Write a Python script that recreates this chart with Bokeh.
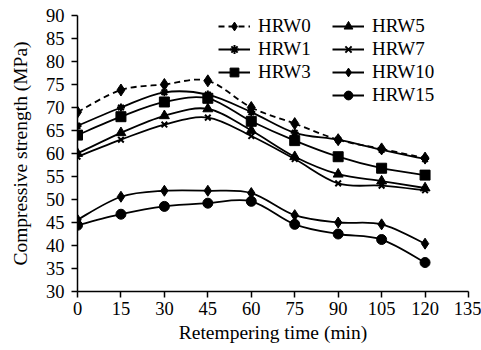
import numpy as np
from bokeh.plotting import figure
from bokeh.models import Range1d, FixedTicker, Legend, LegendItem
from bokeh.embed import file_html
from bokeh.resources import INLINE

# ---- data ----
times = [0, 15, 30, 45, 60, 75, 90, 105, 120]
hrw0 = [69.0, 73.8, 75.0, 75.8, 70.0, 66.5, 63.0, 61.0, 59.0]
hrw1 = [66.0, 70.0, 73.3, 72.8, 69.0, 64.5, 63.0, 60.8, 58.8]
hrw3 = [64.0, 68.0, 71.2, 72.0, 67.0, 62.8, 59.3, 56.8, 55.3]
hrw5 = [60.0, 64.5, 68.2, 69.7, 65.0, 59.3, 55.5, 54.0, 52.5]
hrw7 = [59.3, 63.0, 66.3, 67.8, 63.8, 58.8, 53.5, 53.0, 52.0]
hrw10 = [45.6, 50.6, 51.9, 51.9, 51.4, 46.6, 45.0, 44.6, 40.4]
hrw15 = [44.4, 46.8, 48.5, 49.2, 49.6, 44.6, 42.5, 41.3, 36.3]

x_ticks = [0, 15, 30, 45, 60, 75, 90, 105, 120, 135]
y_ticks = [30, 35, 40, 45, 50, 55, 60, 65, 70, 75, 80, 85, 90]

FONT = "Liberation Serif"

p = figure(width=481, height=350, output_backend="svg", toolbar_location=None,
           x_range=Range1d(0, 135), y_range=Range1d(30, 90),
           min_border_left=77, min_border_right=13, min_border_top=15, min_border_bottom=59)
p.outline_line_color = None
p.xgrid.visible = False
p.ygrid.visible = False
p.background_fill_color = "white"
p.border_fill_color = "white"

for ax in (p.xaxis[0], p.yaxis[0]):
    ax.axis_line_color = "black"
    ax.axis_line_width = 1.5
    ax.major_tick_line_color = "black"
    ax.major_tick_line_width = 1.5
    ax.major_tick_in = 0
    ax.major_tick_out = 6
    ax.minor_tick_line_color = None
    ax.major_label_text_font = FONT
    ax.major_label_text_font_size = "18.5px"
    ax.major_label_text_color = "black"
    ax.axis_label_text_font = FONT
    ax.axis_label_text_font_size = "19.5px"
    ax.axis_label_text_font_style = "normal"
    ax.axis_label_text_color = "black"

p.xaxis.ticker = FixedTicker(ticks=x_ticks)
p.yaxis.ticker = FixedTicker(ticks=y_ticks)
p.xaxis.axis_label = "Retempering time (min)"
p.yaxis.axis_label = "Compressive strength (MPa)"
p.xaxis.major_label_standoff = 4
p.yaxis.major_label_standoff = 7
p.xaxis.axis_label_standoff = 4
p.yaxis.axis_label_standoff = 12


def smooth(xs, ys):
    xs = np.asarray(xs, float)
    ys = np.asarray(ys, float)
    n = len(xs)
    x0, y0, x1, y1, cx0, cy0, cx1, cy1 = ([] for _ in range(8))
    for i in range(n - 1):
        a = i - 1 if i > 0 else i
        d = i + 2 if i + 2 < n else i + 1
        x0.append(xs[i]); y0.append(ys[i])
        x1.append(xs[i + 1]); y1.append(ys[i + 1])
        cx0.append(xs[i] + (xs[i + 1] - xs[a]) / 6)
        cy0.append(ys[i] + (ys[i + 1] - ys[a]) / 6)
        cx1.append(xs[i + 1] - (xs[d] - xs[i]) / 6)
        cy1.append(ys[i + 1] - (ys[d] - ys[i]) / 6)
    return dict(x0=x0, y0=y0, x1=x1, y1=y1, cx0=cx0, cy0=cy0, cx1=cx1, cy1=cy1)


series = [
    ("HRW0", hrw0, "diamond", 12, "6 4"),
    ("HRW1", hrw1, "asterisk", 8, "solid"),
    ("HRW3", hrw3, "square", 10, "solid"),
    ("HRW5", hrw5, "triangle", 10, "solid"),
    ("HRW7", hrw7, "x", 8, "solid"),
    ("HRW10", hrw10, "diamond", 11, "solid"),
    ("HRW15", hrw15, "circle", 10, "solid"),
]

items = []
for name, ys, marker, size, dash in series:
    b = p.bezier(line_color="black", line_width=1.8, line_dash=dash, **smooth(times, ys))
    lw = 2 if marker in ("asterisk", "x") else 1
    s = p.scatter(times, ys, marker=marker, size=size, fill_color="black",
                  line_color="black", line_width=lw)
    items.append(LegendItem(label=name, renderers=[b, s]))

common = dict(border_line_color=None, background_fill_alpha=0, padding=0, margin=0,
              spacing=1, glyph_width=32, glyph_height=22, label_height=22,
              label_standoff=8, label_text_font=FONT, label_text_font_size="19px",
              label_text_color="black")
leg1 = Legend(items=items[:3], location=(141, 276 - 68), **common)
leg2 = Legend(items=items[3:], location=(255, 276 - 91), **common)
p.add_layout(leg1, "center")
p.add_layout(leg2, "center")

open("out.html", "w").write(file_html(p, INLINE))
